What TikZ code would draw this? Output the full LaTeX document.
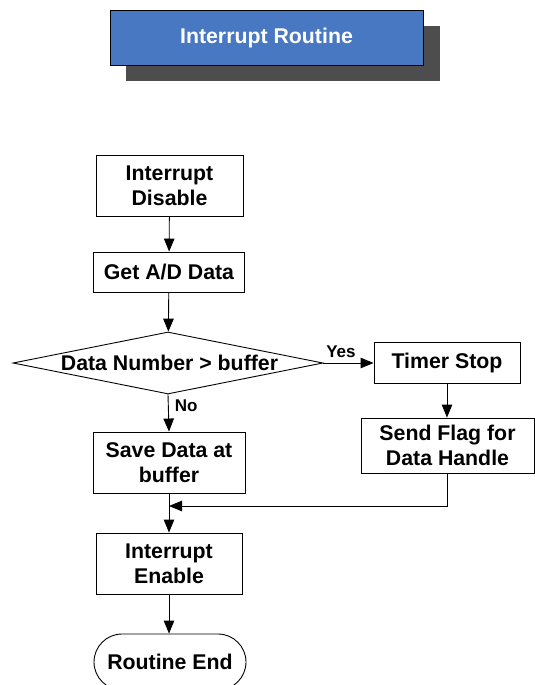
\documentclass[tikz,border=0pt]{standalone}
\usepackage{fontspec}
\setmainfont{Liberation Sans}
\usetikzlibrary{shapes.geometric,arrows.meta}
\definecolor{titleblue}{HTML}{4878C2}
\definecolor{shadowgray}{HTML}{4D4D4D}
\begin{document}
\begin{tikzpicture}[x=1pt,y=-1pt,
  every node/.style={font=\fontsize{21.3}{25}\selectfont\bfseries},
  box/.style={draw=black,line width=0.9pt,rectangle,align=center,inner sep=0pt,fill=white},
  lbl/.style={font=\fontsize{17}{20}\selectfont\bfseries,inner sep=0pt},
  conn/.style={line width=0.9pt,-{Triangle[length=13pt,width=10.5pt]}},
  plain/.style={line width=0.9pt}]
\useasboundingbox (0,0) rectangle (535,685);
% title
\fill[shadowgray] (126,26) rectangle (440,81);
\node[box,fill=titleblue,text=white,minimum width=313pt,minimum height=55pt,text depth=3pt] (title) at (266.5,37.5) {Interrupt Routine};
% nodes
\node[box,minimum width=147pt,minimum height=61pt] (dis) at (169.5,186) {Interrupt\\Disable};
\node[box,minimum width=151pt,minimum height=40pt] (get) at (169,272) {Get A/D Data};
\node[diamond,draw=black,line width=0.9pt,inner sep=0pt,minimum width=310pt,minimum height=62pt] (dec) at (168,363) {\makebox[0pt]{\hspace{3pt}Data Number > buffer}};
\node[box,minimum width=146pt,minimum height=41pt] (timer) at (447,363) {Timer Stop};
\node[box,minimum width=173pt,minimum height=55pt] (send) at (447.5,445.5) {Send Flag for\\Data Handle};
\node[box,minimum width=152pt,minimum height=61pt] (save) at (169,462.5) {Save Data at\\buffer};
\node[box,minimum width=146pt,minimum height=61pt] (en) at (169,563.5) {Interrupt\\Enable};
\node[box,rounded corners=28pt,minimum width=152pt,minimum height=56pt] (end) at (170,662) {Routine End};
% connectors
\draw[conn] (dis) -- (get);
\draw[conn] (get) -- (dec);
\draw[conn] (dec.east) -- (timer.west) node[lbl,pos=0.35,above=5pt] (yes) {Yes};
\draw[conn] (dec.south) -- (save.north) node[lbl,pos=0.3,right=6pt] (no) {No};
\draw[conn] (timer.south) -- (timer.south |- send.north);
\coordinate (m) at (save.south |- 0,506);
\coordinate (m2) at (send.south |- 0,506);
\draw[plain] (send.south) -- (m2);
\draw[conn] (m2) -- (m);
\draw[conn] (save) -- (en);
\draw[conn] (en.south) -- (en.south |- end.north);
\end{tikzpicture}
\end{document}
